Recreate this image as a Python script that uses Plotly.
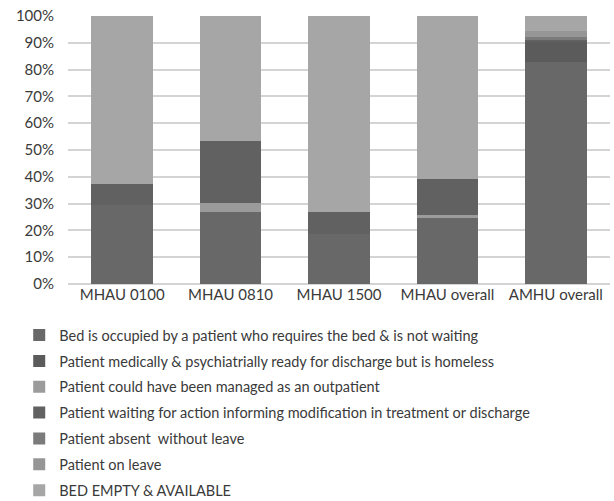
import plotly.graph_objects as go

# Units surveyed
categories = ["MHAU 0100", "MHAU 0810", "MHAU 1500", "MHAU overall", "AMHU overall"]

# Bed status shares (% of beds), bottom of stack first
bed_occupied = [29.5, 26.8, 18.5, 24.5, 82.9]
homeless = [0.0, 0.0, 0.0, 0.0, 7.4]
outpatient = [0.0, 3.5, 0.0, 1.2, 0.0]
waiting_action = [8.0, 23.2, 8.3, 13.4, 0.9]
absent_without_leave = [0.0, 0.0, 0.0, 0.0, 0.8]
on_leave = [0.0, 0.0, 0.0, 0.0, 2.3]
bed_empty = [62.5, 46.5, 73.2, 60.9, 5.7]

y_ticks = [0, 10, 20, 30, 40, 50, 60, 70, 80, 90, 100]

series = [
    ("Bed is occupied by a patient who requires the bed & is not waiting", bed_occupied, "#686868"),
    ("Patient medically & psychiatrially ready for discharge but is homeless", homeless, "#5b5b5b"),
    ("Patient could have been managed as an outpatient", outpatient, "#9b9b9b"),
    ("Patient waiting for action informing modification in treatment or discharge", waiting_action, "#616161"),
    ("Patient absent  without leave", absent_without_leave, "#7b7b7b"),
    ("Patient on leave", on_leave, "#969696"),
    ("BED EMPTY & AVAILABLE", bed_empty, "#a6a6a6"),
]

FONT = "Lato, 'Open Sans', sans-serif"

fig = go.Figure()
for i, (name, vals, color) in enumerate(series):
    fig.add_trace(go.Bar(
        x=categories, y=vals, name=name,
        marker=dict(color=color, line=dict(width=0)),
        legendgroup=f"g{i}",
    ))

fig.update_layout(
    barmode="stack",
    bargap=0.43,
    width=614, height=501,
    margin=dict(l=68, r=4, t=16, b=217, autoexpand=False),
    paper_bgcolor="white",
    plot_bgcolor="white",
    font=dict(family=FONT, size=15, color="#3a3a3a"),
    xaxis=dict(
        showgrid=False, showline=False, ticks="",
        tickfont=dict(size=15, color="#3a3a3a"),
    ),
    yaxis=dict(
        range=[0, 100],
        tickvals=y_ticks,
        ticktext=[f"{v}%" for v in y_ticks],
        showgrid=True, gridcolor="#d4d4d4", gridwidth=1.5,
        zeroline=True, zerolinecolor="#d4d4d4", zerolinewidth=1.5,
        showline=False, ticks="",
        ticklabelstandoff=13,
        tickfont=dict(size=15, color="#3a3a3a"),
    ),
    legend=dict(
        orientation="v",
        traceorder="grouped",
        tracegroupgap=4,
        x=-0.09, xanchor="left",
        y=-0.131, yanchor="top",
        font=dict(size=14.5, color="#3a3a3a"),
        bgcolor="rgba(0,0,0,0)",
        itemwidth=30,
    ),
    showlegend=True,
)

fig.write_html("out.html")
